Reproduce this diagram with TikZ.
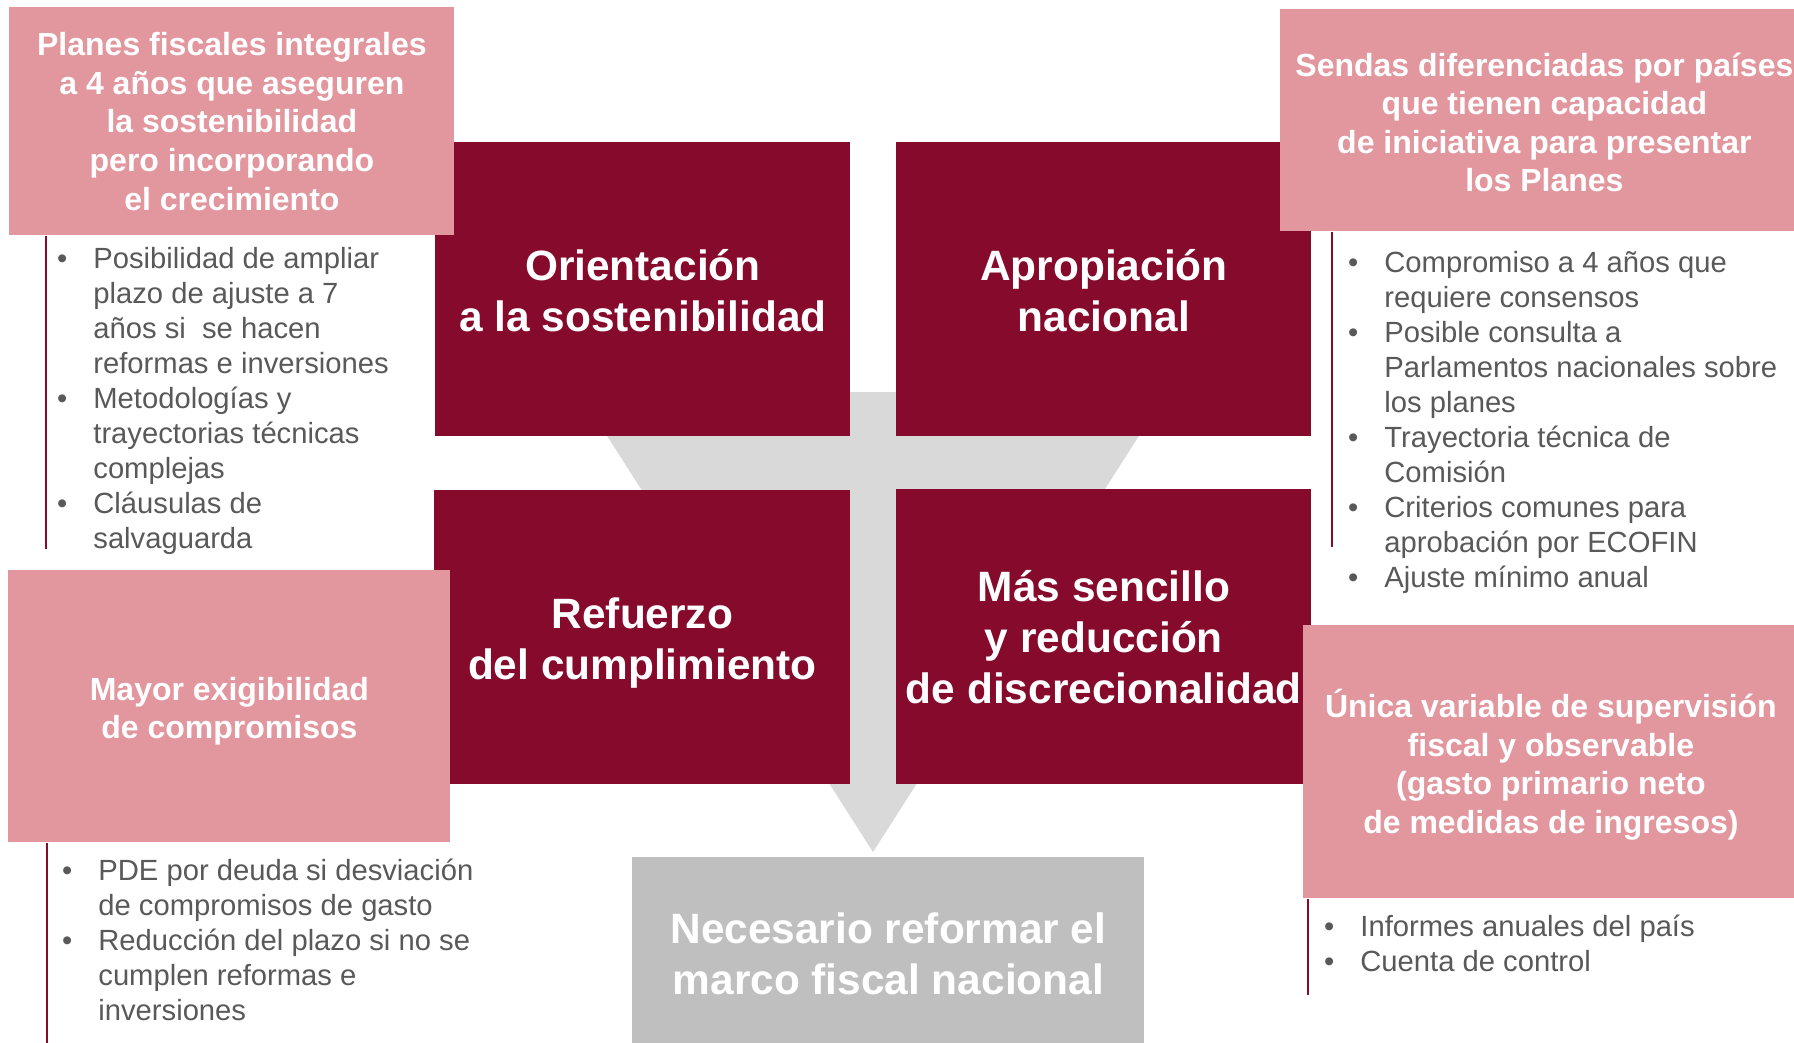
\documentclass[tikz,border=0pt]{standalone}
\usepackage{fontspec}
\setmainfont{Liberation Sans}
\definecolor{burg}{RGB}{133,10,43}
\definecolor{rose}{RGB}{226,151,159}
\definecolor{lgray}{RGB}{217,217,217}
\definecolor{mgray}{RGB}{191,191,191}
\definecolor{tgray}{RGB}{89,89,89}
\newcommand{\bulmark}{\llap{•\hspace{13pt}}}
\begin{document}
\begin{tikzpicture}[x=0.5pt,y=-0.5pt,
  boxat/.style 2 args={minimum width=#1*0.5pt, minimum height=#2*0.5pt, inner sep=0pt, anchor=north west},
  darkbox/.style={fill=burg},
  pinkbox/.style={fill=rose},
  graybox/.style={fill=mgray},
  bigtext/.style={text=white, align=center, inner sep=0pt, font=\bfseries\fontsize{21.2}{25.5}\selectfont},
  pinktext/.style={text=white, align=center, inner sep=0pt, font=\bfseries\fontsize{16}{19.3}\selectfont},
  bulletlist/.style={text=tgray, align=left, anchor=north west, inner sep=0pt, font=\fontsize{14.6}{17.5}\selectfont},
  vline/.style={draw=burg, line width=1pt}
]
\useasboundingbox (0,0) rectangle (1794,1043);
\fill[white] (0,0) rectangle (1794,1043);

% big background arrow
\fill[lgray] (579,392) -- (1167,392) -- (873,852) -- cycle;

% grey result box
\node[graybox, boxat={512}{186}] (result) at (632,857) {};
\node[bigtext, yshift=-1.7pt] (resultText) at (result.center) {Necesario reformar el\\marco fiscal nacional};

% dark boxes
\node[darkbox, boxat={415}{294}] (orient) at (435,142) {};
\node[darkbox, boxat={415}{294}] (aprop) at (896,142) {};
\node[darkbox, boxat={416}{294}] (refuer) at (434,490) {};
\node[darkbox, boxat={415}{295}] (sencillo) at (896,489) {};
\node[bigtext, yshift=-0.5pt] (orientText) at (orient.center) {Orientación\\a la sostenibilidad};
\node[bigtext, yshift=-0.5pt] (apropText) at (aprop.center) {Apropiación\\nacional};
\node[bigtext, yshift=-3pt] (refuerText) at (refuer.center) {Refuerzo\\del cumplimiento};
\node[bigtext] (sencilloText) at (sencillo.center) {Más sencillo\\y reducción\\de discrecionalidad};

% pink boxes
\node[pinkbox, boxat={445}{228}] (planes) at (9,7) {};
\node[pinkbox, boxat={514}{222}] (sendas) at (1280,9) {};
\node[pinkbox, boxat={442}{272}] (mayor) at (8,570) {};
\node[pinkbox, boxat={491}{273}] (unica) at (1303,625) {};
\node[pinktext] (planesText) at (planes.center) {Planes fiscales integrales\\a 4 años que aseguren\\la sostenibilidad\\pero incorporando\\el crecimiento};
\node[pinktext, xshift=3.5pt, yshift=-1pt] (sendasText) at (sendas.center) {Sendas diferenciadas por países\\que tienen capacidad\\de iniciativa para presentar\\los Planes};
\node[pinktext, yshift=-2.5pt] (mayorText) at (mayor.center) {Mayor exigibilidad\\de compromisos};
\node[pinktext, xshift=1pt, yshift=-1.5pt] (unicaText) at (unica.center) {Única variable de supervisión\\fiscal y observable\\(gasto primario neto\\de medidas de ingresos)};

% vertical accent lines
\coordinate (planesEnd) at (46,549);
\coordinate (sendasEnd) at (1332,547);
\coordinate (mayorEnd) at (47,1043);
\coordinate (unicaEnd) at (1308,995);
\draw[vline] (planes.south -| planesEnd) -- (planesEnd);
\draw[vline] (sendas.south -| sendasEnd) -- (sendasEnd);
\draw[vline] (mayor.south -| mayorEnd) -- (mayorEnd);
\draw[vline] (unica.south -| unicaEnd) -- (unicaEnd);

% bullet lists
\node[bulletlist] (planesList) at (93,243.5) {\strut\bulmark Posibilidad de ampliar\\plazo de ajuste a 7\\años si\ \ se hacen\\reformas e inversiones\\\bulmark Metodologías y\\trayectorias técnicas\\complejas\\\bulmark Cláusulas de\\salvaguarda};
\node[bulletlist] (sendasList) at (1384,247.5) {\strut\bulmark Compromiso a 4 años que\\requiere consensos\\\bulmark Posible consulta a\\Parlamentos nacionales sobre\\los planes\\\bulmark Trayectoria técnica de\\Comisión\\\bulmark Criterios comunes para\\aprobación por ECOFIN\\\bulmark Ajuste mínimo anual};
\node[bulletlist] (mayorList) at (98,855.5) {\strut\bulmark PDE por deuda si desviación\\de compromisos de gasto\\\bulmark Reducción del plazo si no se\\cumplen reformas e\\inversiones};
\node[bulletlist] (unicaList) at (1360,911.5) {\strut\bulmark Informes anuales del país\\\bulmark Cuenta de control};
\end{tikzpicture}
\end{document}
